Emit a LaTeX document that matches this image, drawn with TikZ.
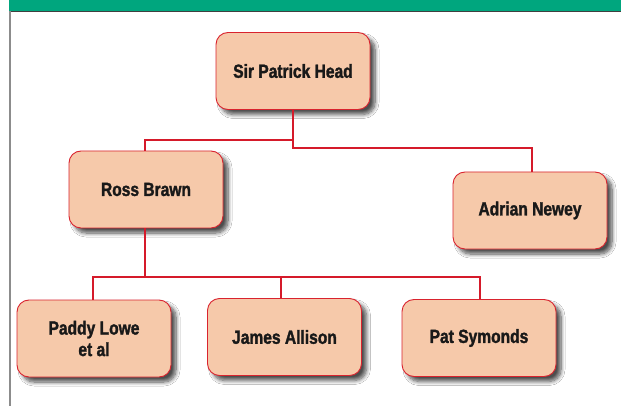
\documentclass[tikz,border=0pt]{standalone}
\usepackage{fontspec}
\setmainfont[FakeStretch=0.82, BoldFeatures={FakeBold=1.6}]{Liberation Sans}
\usetikzlibrary{shadows.blur}
\definecolor{peach}{HTML}{F6C9AA}
\definecolor{boxred}{HTML}{D9232E}
\definecolor{linered}{HTML}{D51A2A}
\definecolor{barg}{HTML}{00A67E}
\tikzset{
  person/.style={draw=boxred, line width=0.9pt, fill=peach, rounded corners=12pt,
    minimum width=154pt, minimum height=77pt, align=center, inner sep=0pt,
    font=\fontsize{19}{21.5}\selectfont\bfseries, text=black!90,
    blur shadow={shadow xshift=5pt, shadow yshift=-5pt, shadow blur steps=8, shadow blur radius=4pt, shadow opacity=70}},
  link/.style={draw=linered, line width=2pt}
}
\begin{document}
\begin{tikzpicture}[x=1pt,y=-1pt]
\useasboundingbox (0,0) rectangle (621,406);
\fill[white] (0,0) rectangle (621,406);
\fill[barg] (9,0) rectangle (621,11);
\draw[black!75, line width=0.8pt] (9,11) -- (621,11);
\draw[black!45, line width=1.6pt] (10,11) -- (10,406);
\node[person] (head) at (293,71) {Sir Patrick Head};
\node[person] (brawn) at (146,189.5) {Ross Brawn};
\node[person] (newey) at (530,210.5) {Adrian Newey};
\node[person] (lowe) at (94,338.5) {Paddy Lowe\\et al};
\node[person] (allison) at (284.5,337) {James Allison};
\node[person] (symonds) at (479,338) {Pat Symonds};
\coordinate (j1) at (293,140);
\coordinate (j2) at (293,148);
\coordinate (j3) at (145,277);
\draw[link] (head.south) -- (j2) -| (newey.north -| 532,0);
\draw[link] (j1) -| (brawn.north -| 145,0);
\draw[link] (brawn.south -| 145,0) -- (j3);
\draw[link] (lowe.north -| 93,0) |- (j3) -| (symonds.north -| 480,0);
\draw[link] (j3 -| 281,0) -- (allison.north -| 281,0);
\end{tikzpicture}
\end{document}
